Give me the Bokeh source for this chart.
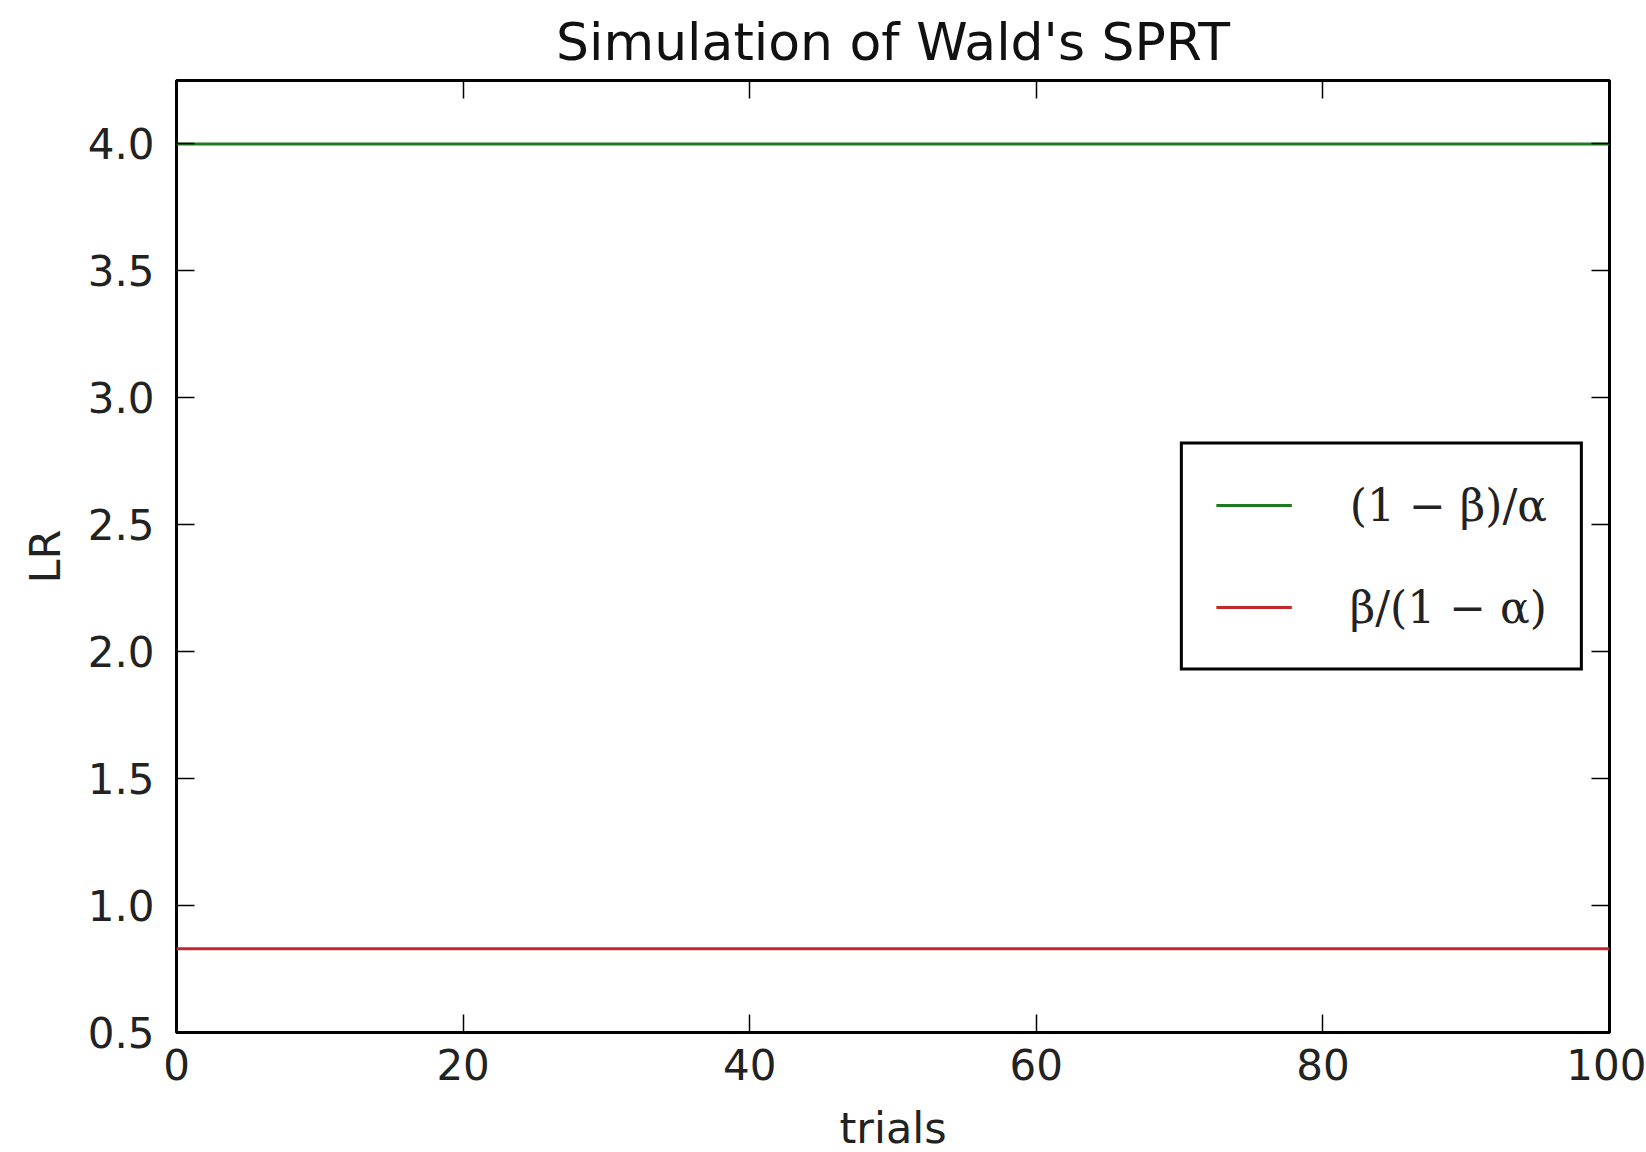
from bokeh.plotting import figure
from bokeh.models import LinearAxis, Range1d, Legend, LegendItem, FixedTicker, PrintfTickFormatter
from bokeh.embed import file_html
from bokeh.resources import INLINE

# data
trials = [0, 100]
upper_label = "(1 − β)/α"
lower_label = "β/(1 − α)"
upper_values = [4.0, 4.0]
lower_values = [0.83, 0.83]
x_ticks = [0, 20, 40, 60, 80, 100]
y_ticks = [0.5, 1.0, 1.5, 2.0, 2.5, 3.0, 3.5, 4.0]

FONT = "DejaVu Sans"

p = figure(frame_width=1433, frame_height=952,
           min_border_left=176, min_border_right=37, min_border_top=79, min_border_bottom=121,
           x_range=Range1d(0, 100), y_range=Range1d(0.5, 4.25),
           output_backend="svg", toolbar_location=None,
           title="Simulation of Wald's SPRT")
p.background_fill_color = "white"
p.border_fill_color = "white"
p.grid.visible = False
p.outline_line_color = "black"
p.outline_line_width = 3

p.title.text_font = FONT
p.title.text_font_size = "52px"
p.title.text_font_style = "normal"
p.title.align = "center"
p.title.text_color = "#111111"
p.title.offset = 0
p.title.standoff = 18

g = p.line(trials, upper_values, line_color="#1e7a1e", line_width=3)
r = p.line(trials, lower_values, line_color="#c0282d", line_width=3)

def style_axis(ax, labels=True):
    ax.axis_line_color = None
    ax.major_tick_in = 18
    ax.major_tick_out = 0
    ax.minor_tick_line_color = None
    ax.major_tick_line_color = "black"
    ax.major_tick_line_width = 1.5
    ax.major_label_text_font = FONT
    ax.major_label_text_font_size = "42px"
    ax.major_label_text_color = "#222222"
    ax.axis_label_text_font = FONT
    ax.axis_label_text_font_size = "43px"
    ax.axis_label_text_font_style = "normal"
    ax.axis_label_text_color = "#222222"
    if not labels:
        ax.major_label_text_font_size = "0px"
        ax.major_label_text_color = None
        ax.major_label_standoff = 0

xa = p.xaxis[0]
ya = p.yaxis[0]
xa.ticker = FixedTicker(ticks=x_ticks)
ya.ticker = FixedTicker(ticks=y_ticks)
xa.formatter = PrintfTickFormatter(format="%d")
ya.formatter = PrintfTickFormatter(format="%.1f")
style_axis(xa)
style_axis(ya)
xa.axis_label = "trials"
ya.axis_label = "LR"
xa.major_label_standoff = 16
ya.major_label_standoff = 22
xa.axis_label_standoff = 20
ya.axis_label_standoff = 15

top = LinearAxis(ticker=FixedTicker(ticks=x_ticks))
right = LinearAxis(ticker=FixedTicker(ticks=y_ticks))
style_axis(top, labels=False)
style_axis(right, labels=False)
p.add_layout(top, "above")
p.add_layout(right, "right")

legend = Legend(items=[LegendItem(label=upper_label, renderers=[g]),
                       LegendItem(label=lower_label, renderers=[r])],
                location="center_right")
legend.margin = 26
legend.padding = 33
legend.spacing = 47
legend.glyph_width = 76
legend.glyph_height = 55
legend.label_height = 55
legend.label_standoff = 58
legend.label_text_font = "DejaVu Serif"
legend.label_text_font_size = "44px"
legend.label_text_color = "#222222"
legend.border_line_color = "black"
legend.border_line_alpha = 1.0
legend.border_line_width = 3
legend.background_fill_alpha = 1
p.add_layout(legend, "center")

open("out.html", "w").write(file_html(p, INLINE))
